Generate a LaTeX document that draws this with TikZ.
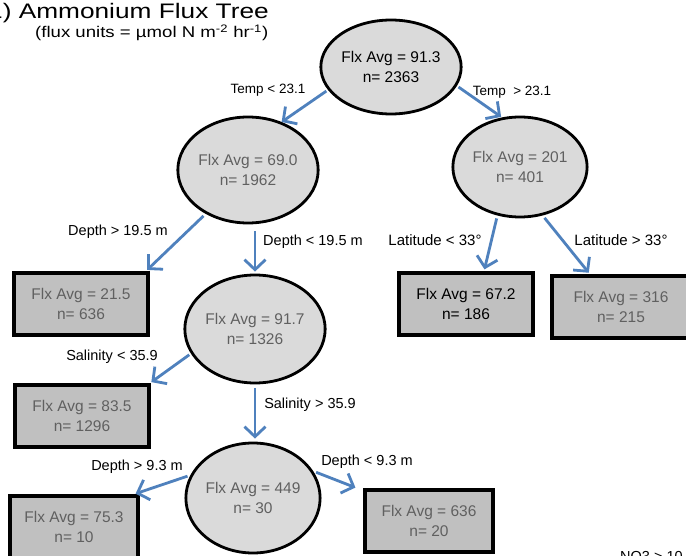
\documentclass[tikz,border=0pt]{standalone}
\usepackage{fontspec}
\setmainfont{Liberation Sans}
\usetikzlibrary{arrows.meta,shapes.geometric}
\definecolor{arrowblue}{HTML}{4F81BD}
\definecolor{ellfill}{HTML}{DADADA}
\definecolor{boxfill}{HTML}{C0C0C0}
\definecolor{graytext}{HTML}{606060}
\begin{document}
\begin{tikzpicture}[x=1pt,y=-1pt,
  ell/.style={ellipse, draw=black, line width=2.8pt, fill=ellfill, inner sep=0pt,
    align=center, font=\fontsize{15.5}{20}\selectfont, text=graytext},
  leaf/.style={rectangle, draw=black, line width=3.4pt, fill=boxfill, inner sep=0pt,
    minimum width=134pt, minimum height=62pt, align=center,
    font=\fontsize{15.5}{20}\selectfont, text=graytext},
  conn/.style={draw=arrowblue, line width=2.8pt,
    -{Straight Barb[length=10pt,width=21pt]}},
  lab/.style={font=\fontsize{14.5}{16}\selectfont, inner sep=0pt},
  labs/.style={font=\fontsize{13.5}{15}\selectfont, inner sep=0pt},
  labl/.style={font=\fontsize{15}{17}\selectfont, inner sep=0pt}]
\useasboundingbox (0,0) rectangle (686,556);
\fill[white] (0,0) rectangle (686,556);

% titles
\node[anchor=base west, inner sep=0pt, font=\fontsize{21}{24}\selectfont] (title) at (-12,19)
  {\scalebox{1.25}[1]{1) Ammonium Flux Tree}};
\node[anchor=base west, inner sep=0pt, font=\fontsize{15.5}{18}\selectfont] (subtitle) at (35,38)
  {\scalebox{1.2}[1]{(flux units = µmol N m\textsuperscript{-2} hr\textsuperscript{-1})}};

% ellipses
\node[ell, minimum width=136pt, minimum height=94pt, text=black] (root) at (391,67) {Flx Avg = 91.3\\n= 2363};
\node[ell, minimum width=134pt, minimum height=106pt] (n69) at (248,170) {Flx Avg = 69.0\\n= 1962};
\node[ell, minimum width=114pt, minimum height=100pt] (n201) at (520,167) {Flx Avg = 201\\n= 401};
\node[ell, minimum width=128pt, minimum height=108pt] (n917) at (255,329) {Flx Avg = 91.7\\n= 1326};
\node[ell, minimum width=130pt, minimum height=110pt] (n449) at (253,498) {Flx Avg = 449\\n= 30};

% leaves
\node[leaf] (b215) at (81,304) {Flx Avg = 21.5\\n= 636};
\node[leaf] (b835) at (82,416) {Flx Avg = 83.5\\n= 1296};
\node[leaf, minimum width=128pt] (b753) at (74,527) {Flx Avg = 75.3\\n= 10};
\node[leaf, minimum width=128pt] (b636) at (429,521) {Flx Avg = 636\\n= 20};
\node[leaf, text=black] (b672) at (466,304) {Flx Avg = 67.2\\n= 186};
\node[leaf, minimum width=138pt] (b316) at (621,307) {Flx Avg = 316\\n= 215};

% connectors
\draw[conn, shorten <=2pt] (root.200) -- (n69.55);
\draw[conn, shorten <=2pt, shorten >=1pt] (root.344) -- (n201.110);
\draw[conn, shorten <=3pt, shorten >=2pt] (n69.226) -- ([xshift=-4pt]b215.north east);
\draw[conn, shorten <=7pt, shorten >=2pt] (n69.south -| n917.north) -- (n917.north);
\draw[conn, shorten <=3pt, shorten >=2pt] (n201.245) -- ([xshift=18pt]b672.north);
\draw[conn, shorten <=3pt, shorten >=2pt] (n201.295) -- ([xshift=-31pt]b316.north);
\draw[conn, shorten <=2pt, shorten >=2pt] (n917.201) -- ([xshift=-1pt]b835.north east);
\draw[conn, shorten <=4pt, shorten >=3pt] (n917.south) -- (n917.south |- n449.north);
\draw[conn, shorten <=3pt, shorten >=2pt] (n449.160) -- ([xshift=-6pt]b753.north east);
\draw[conn, shorten <=3pt, shorten >=2pt] (n449.24) -- ([xshift=-6pt]b636.north west);

% labels
\node[labs] (l1) at (268,90) {Temp < 23.1};
\node[labs] (l2) at (512,92) {Temp \ > 23.1};
\node[lab] (l3) at (118,232) {Depth > 19.5 m};
\node[lab] (l4) at (313,242) {Depth < 19.5 m};
\node[labl] (l5) at (435,240) {Latitude < 33°};
\node[labl] (l6) at (621,240) {Latitude > 33°};
\node[lab] (l7) at (112,357) {Salinity < 35.9};
\node[lab] (l8) at (310,405) {Salinity > 35.9};
\node[lab] (l9) at (137,467) {Depth > 9.3 m};
\node[lab] (l10) at (367,462) {Depth < 9.3 m};
\node[lab, anchor=base west] (l11) at (620,561) {NO3 > 10};
\end{tikzpicture}
\end{document}
